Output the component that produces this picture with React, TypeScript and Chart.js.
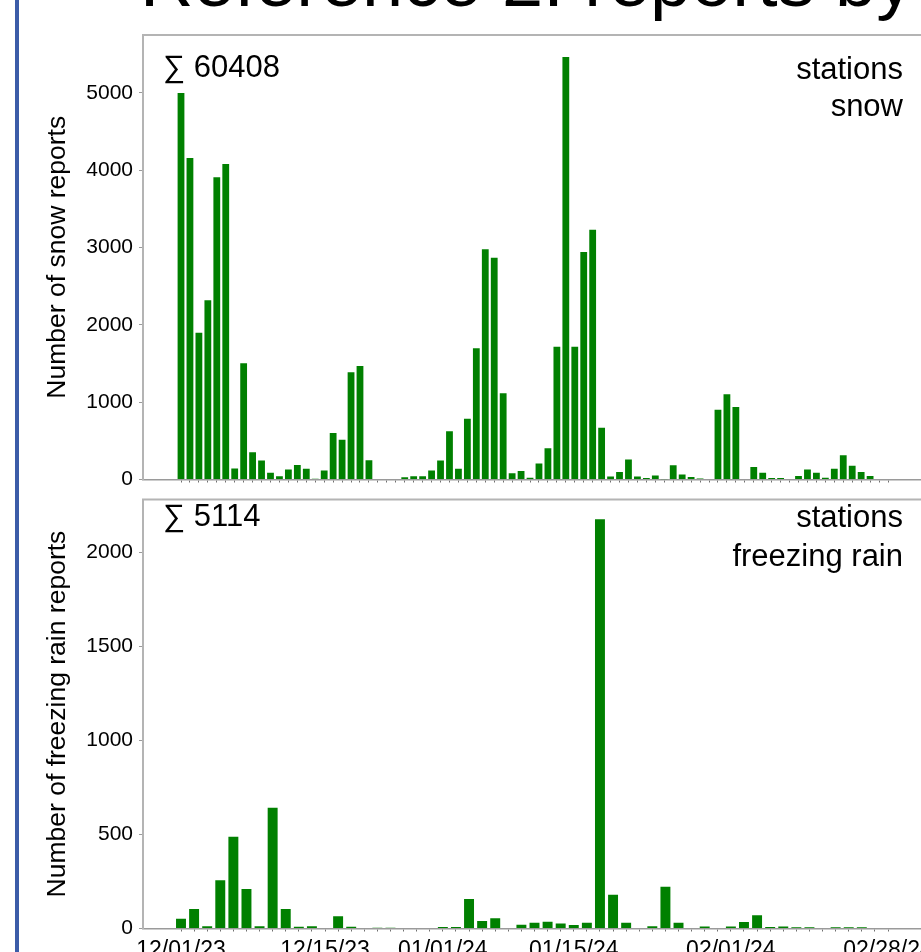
import React, { useEffect, useRef } from "react";
import { Chart, registerables } from "chart.js";

Chart.register(...registerables);

// ---- data ----
const snowReports = [
  5000, 4158, 1898, 2320, 3909, 4081, 142, 1503, 352, 245,
  86, 43, 129, 189, 138, 10, 116, 601, 515, 1388,
  1469, 250, 8, 8, 0, 30, 43, 43, 116, 245,
  623, 138, 786, 1697, 2977, 2869, 1117, 80, 110, 22,
  206, 405, 1718, 5464, 1718, 2942, 3231, 670, 40, 97,
  258, 40, 21, 52, 2, 183, 66, 32, 13, 0,
  902, 1104, 937, 8, 163, 86, 21, 21, 0, 45,
  129, 86, 22, 138, 314, 178, 97, 45, 0, 0,
];

const freezingRainReports = [
  52, 103, 12, 257, 488, 210, 12, 642, 103, 9,
  12, 3, 65, 9, 0, 4, 4, 0, 3, 0,
  8, 8, 157, 40, 55, 0, 20, 30, 36, 26,
  19, 31, 2175, 180, 30, 0, 12, 222, 30, 0,
  10, 0, 10, 35, 70, 8, 10, 6, 6, 0,
  6, 6, 6, 0, 0,
];

const snowTicks = [0, 1000, 2000, 3000, 4000, 5000];
const rainTicks = [0, 500, 1000, 1500, 2000];
const dateLabels = ["12/01/23", "12/15/23", "01/01/24", "01/15/24", "02/01/24", "02/28/24"];
const dateLabelBars = [0, 11, 20, 30, 42, 54];

const snowTotal = "∑ 60408";
const rainTotal = "∑ 5114";

// ---- layout / style ----
const FONT = "'Liberation Sans', Arial, Helvetica, sans-serif";
const GREEN = "#008000";
const CANVAS_W = 960;
const AREA_LEFT = 143;
const FIRST_BAR_PX = 181;
const LAST_BAR_PX = 888;

function xRange(n: number) {
  const pitch = (LAST_BAR_PX - FIRST_BAR_PX) / (n - 1);
  return {
    min: -(FIRST_BAR_PX - AREA_LEFT) / pitch,
    max: n - 1 + (CANVAS_W - LAST_BAR_PX) / pitch,
  };
}

const frameTopPlugin = {
  id: "frameTop",
  afterDraw(chart: any) {
    const { ctx, chartArea } = chart;
    ctx.save();
    ctx.strokeStyle = "#b4b4b4";
    ctx.lineWidth = 2;
    ctx.beginPath();
    ctx.moveTo(chartArea.left - 1, chartArea.top);
    ctx.lineTo(chartArea.right, chartArea.top);
    ctx.stroke();
    ctx.restore();
  },
};

function buildConfig(p: {
  values: number[];
  yMax: number;
  yTicks: number[];
  yTitle: string;
  showDates: boolean;
  xAxisHeight: number;
  padTop: number;
}): any {
  const n = p.values.length;
  const r = xRange(n);
  const barIdx = p.values.map((_, i) => i);
  const titleSize = 26.5;
  return {
    type: "bar",
    data: {
      datasets: [
        {
          data: p.values.map((v, i) => ({ x: i, y: v })),
          backgroundColor: GREEN,
          borderWidth: 0,
          barPercentage: 0.76,
          categoryPercentage: 1,
        },
      ],
    },
    options: {
      animation: false,
      responsive: false,
      maintainAspectRatio: false,
      layout: { padding: { top: p.padTop, left: 0, right: 0, bottom: 0 } },
      plugins: { legend: { display: false }, tooltip: { enabled: false } },
      scales: {
        x: {
          type: "linear",
          min: r.min,
          max: r.max,
          offset: false,
          grid: {
            offset: false,
            drawOnChartArea: false,
            drawTicks: true,
            tickLength: 3,
            tickColor: "#6f6f6f",
            tickWidth: 1,
          },
          border: { display: true, color: "#9a9a9a", width: 1.5 },
          afterBuildTicks: (s: any) => {
            s.ticks = barIdx.map((v) => ({ value: v }));
          },
          afterFit: (s: any) => {
            s.height = p.xAxisHeight;
          },
          ticks: {
            autoSkip: false,
            maxRotation: 0,
            minRotation: 0,
            padding: 5,
            color: "#000",
            font: { family: FONT, size: 23 },
            callback: (v: number) => {
              const k = dateLabelBars.indexOf(v);
              return p.showDates && k >= 0 ? dateLabels[k] : "";
            },
          },
        },
        y: {
          min: 0,
          max: p.yMax,
          afterBuildTicks: (s: any) => {
            s.ticks = p.yTicks.map((v) => ({ value: v }));
          },
          afterFit: (s: any) => {
            s.width = AREA_LEFT;
          },
          grid: {
            drawOnChartArea: false,
            drawTicks: true,
            tickLength: 4,
            tickColor: "#9a9a9a",
          },
          border: { display: true, color: "#b4b4b4", width: 2 },
          ticks: {
            padding: 6,
            color: "#000",
            font: { family: FONT, size: 21 },
            callback: (v: number) => String(v),
          },
          title: {
            display: true,
            text: p.yTitle,
            color: "#000",
            font: { family: FONT, size: titleSize },
            padding: { top: 58 - titleSize * 0.6, bottom: 0 },
          },
        },
      },
    },
    plugins: [frameTopPlugin],
  };
}

const annotStyle: React.CSSProperties = {
  position: "absolute",
  fontFamily: FONT,
  fontSize: 31,
  color: "#000",
  whiteSpace: "nowrap",
};

export default function App() {
  const topRef = useRef<HTMLCanvasElement>(null);
  const botRef = useRef<HTMLCanvasElement>(null);

  useEffect(() => {
    const c1 = new Chart(
      topRef.current as HTMLCanvasElement,
      buildConfig({
        values: snowReports,
        yMax: 5750,
        yTicks: snowTicks,
        yTitle: "Number of snow reports",
        showDates: false,
        xAxisHeight: 20.5,
        padTop: 35,
      })
    );
    const c2 = new Chart(
      botRef.current as HTMLCanvasElement,
      buildConfig({
        values: freezingRainReports,
        yMax: 2280,
        yTicks: rainTicks,
        yTitle: "Number of freezing rain reports",
        showDates: true,
        xAxisHeight: 112.5,
        padTop: 3,
      })
    );
    return () => {
      c1.destroy();
      c2.destroy();
    };
  }, []);

  return (
    <div
      style={{
        position: "absolute",
        left: 0,
        top: 0,
        width: 921,
        height: 952,
        overflow: "hidden",
        background: "#fff",
        fontFamily: FONT,
      }}
    >
      <div style={{ position: "absolute", left: 15, top: 0, width: 4, height: 952, background: "#3c5ca8" }} />
      <div
        style={{
          position: "absolute",
          left: 140,
          top: -56,
          fontSize: 74,
          lineHeight: 1,
          whiteSpace: "nowrap",
          color: "#000",
        }}
      >
        Reference 2: reports by
      </div>
      <canvas ref={topRef} width={CANVAS_W} height={500} style={{ position: "absolute", left: 0, top: 0 }} />
      <canvas ref={botRef} width={CANVAS_W} height={560} style={{ position: "absolute", left: 0, top: 481 }} />
      <div style={{ ...annotStyle, left: 163, top: 51, lineHeight: 1 }}>{snowTotal}</div>
      <div style={{ ...annotStyle, right: 18, top: 50, lineHeight: "37px", textAlign: "right" }}>
        stations
        <br />
        snow
      </div>
      <div style={{ ...annotStyle, left: 163, top: 499.5, lineHeight: 1 }}>{rainTotal}</div>
      <div style={{ ...annotStyle, right: 18, top: 497, lineHeight: "39px", textAlign: "right" }}>
        stations
        <br />
        freezing rain
      </div>
    </div>
  );
}
